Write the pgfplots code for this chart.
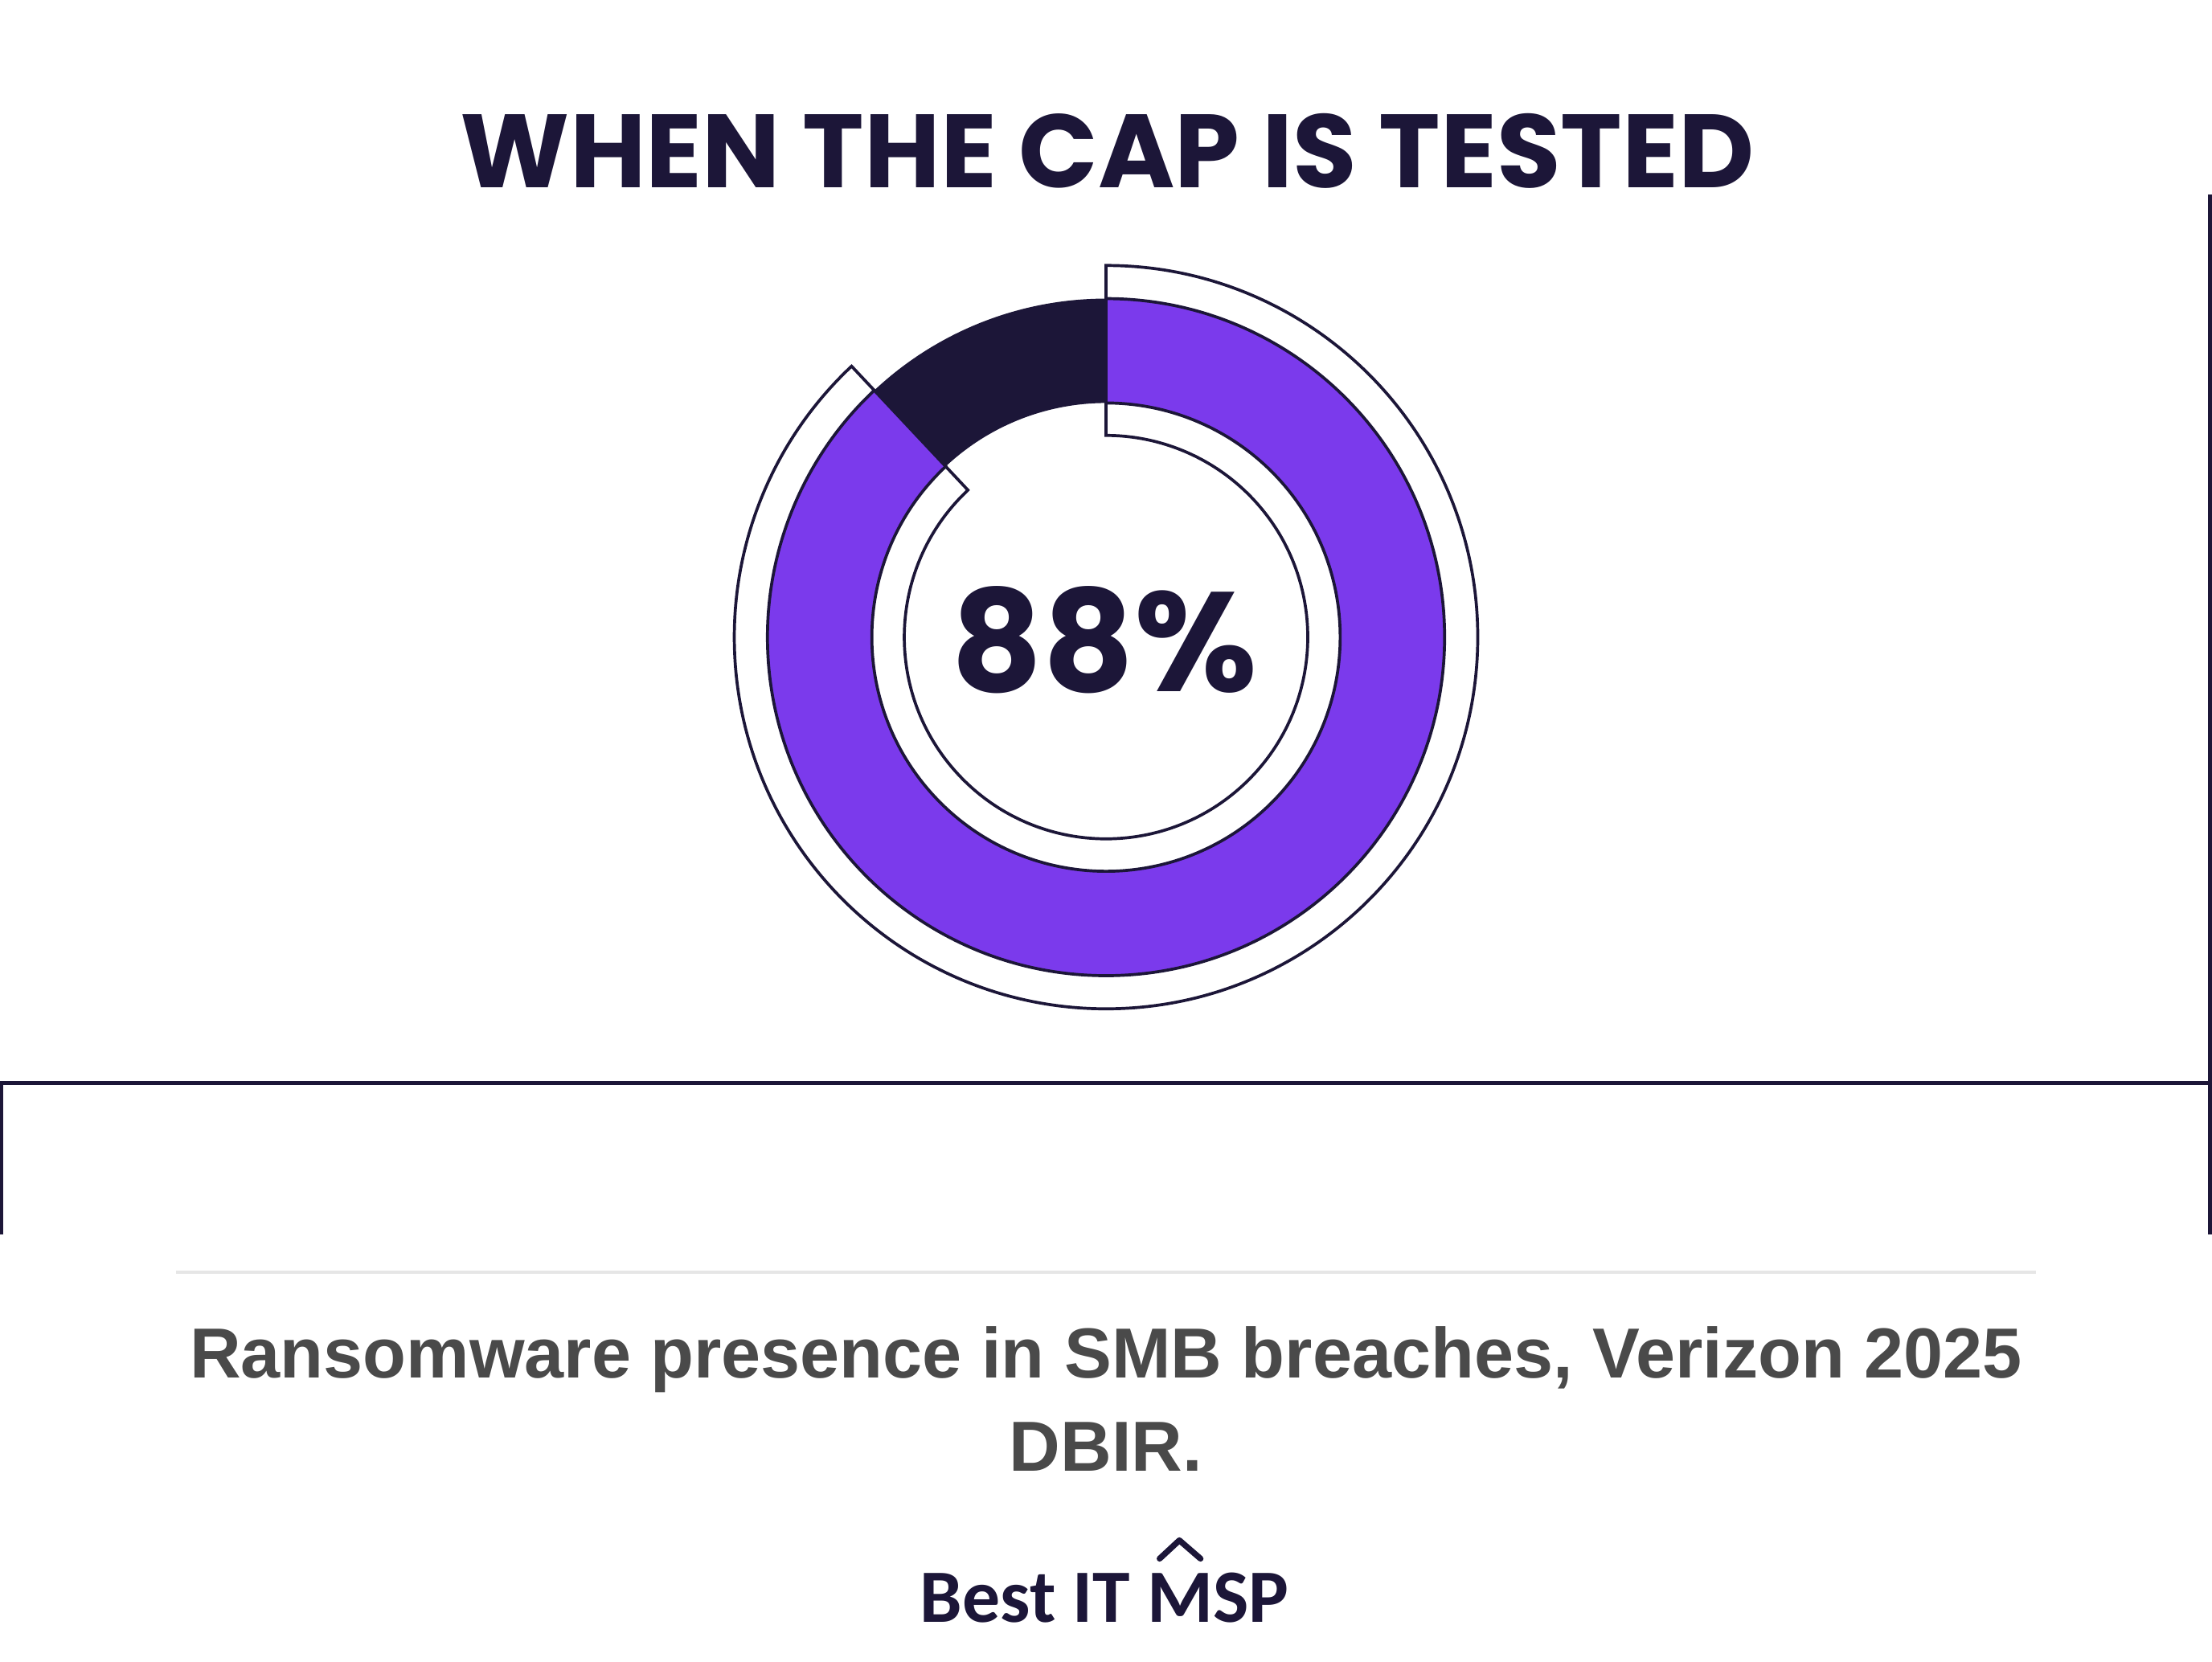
\documentclass[border=0pt]{standalone}
\usepackage{pgfplots}
\pgfplotsset{compat=1.18}
\usepackage{pgfplotstable}
\usepackage{fontspec}
\setmainfont{Liberation Sans}
\newfontfamily\poppins{Poppins}
\newfontfamily\carlito{Carlito}

\definecolor{navy}{HTML}{1C1638}
\definecolor{violet}{HTML}{7B3AEC}
\definecolor{capgray}{HTML}{4A4A4A}
\definecolor{rulegray}{HTML}{E6E6E6}

% share of SMB breaches with ransomware present
\pgfplotstableread{
segment value
Ransomware 88
Other 12
}\donutdata

\begin{document}
\begin{tikzpicture}
\useasboundingbox (0,0) rectangle (15.68,11.777);
\pgfplotstablegetelem{0}{value}\of\donutdata
\pgfmathsetmacro\angEnd{90-3.6*\pgfplotsretval}
\pgfplotstablegetelem{1}{value}\of\donutdata
\pgfmathsetmacro\angDark{90+3.6*\pgfplotsretval}
\def\cx{7.84}
\def\cy{7.26}
\begin{axis}[
    x=1cm, y=1cm,
    xmin=0, xmax=15.68, ymin=0, ymax=11.777,
    at={(0,0)}, anchor=south west,
    hide axis, clip=false,
]
% offset outline of the main segment
\draw[navy, line width=0.6pt]
    (axis cs:\cx,\cy) ++(90:2.635) arc[start angle=90, end angle=\angEnd, radius=2.635]
    -- ++(\angEnd:-1.205) arc[start angle=\angEnd, end angle=90, radius=1.43] -- cycle;
% remaining share
\fill[navy]
    (axis cs:\cx,\cy) ++(90:2.4) arc[start angle=90, end angle=\angDark, radius=2.4]
    -- ++(\angDark:-0.74) arc[start angle=\angDark, end angle=90, radius=1.66] -- cycle;
% ransomware share
\filldraw[fill=violet, draw=navy, line width=0.6pt]
    (axis cs:\cx,\cy) ++(90:2.4) arc[start angle=90, end angle=\angEnd, radius=2.4]
    -- ++(\angEnd:-0.74) arc[start angle=\angEnd, end angle=90, radius=1.66] -- cycle;
\end{axis}

% title and centre value
\node[anchor=base, text=navy, inner sep=0pt, font=\poppins\bfseries\fontsize{21}{25}\selectfont]
    at (7.85,10.447) {WHEN THE CAP IS TESTED};
\node[anchor=base, text=navy, inner sep=0pt, font=\poppins\bfseries\fontsize{28.5}{34}\selectfont]
    at (7.83,6.877) {88\%};

% frame pieces
\draw[navy, line width=0.8pt] (15.665,10.397) -- (15.665,3.027);
\draw[navy, line width=0.8pt] (0,4.097) -- (15.68,4.097);
\draw[navy, line width=0.8pt] (0.01,4.097) -- (0.01,3.027);
\draw[rulegray, line width=0.7pt] (1.25,2.757) -- (14.43,2.757);

% caption
\node[anchor=base, text=capgray, inner sep=0pt, font=\bfseries\fontsize{14.3}{19}\selectfont]
    at (7.84,2.007) {Ransomware presence in SMB breaches, Verizon 2025};
\node[anchor=base, text=capgray, inner sep=0pt, font=\bfseries\fontsize{14.3}{19}\selectfont]
    at (7.84,1.347) {DBIR.};

% logo
\node[anchor=base, text=navy, inner sep=0pt, font=\carlito\bfseries\fontsize{15.2}{18}\selectfont]
    at (7.83,0.277) {Best IT MSP};
\draw[navy, line width=1.2pt, line cap=round, line join=round]
    (8.22,0.727) -- (8.36,0.857) -- (8.51,0.727);
\end{tikzpicture}
\end{document}
